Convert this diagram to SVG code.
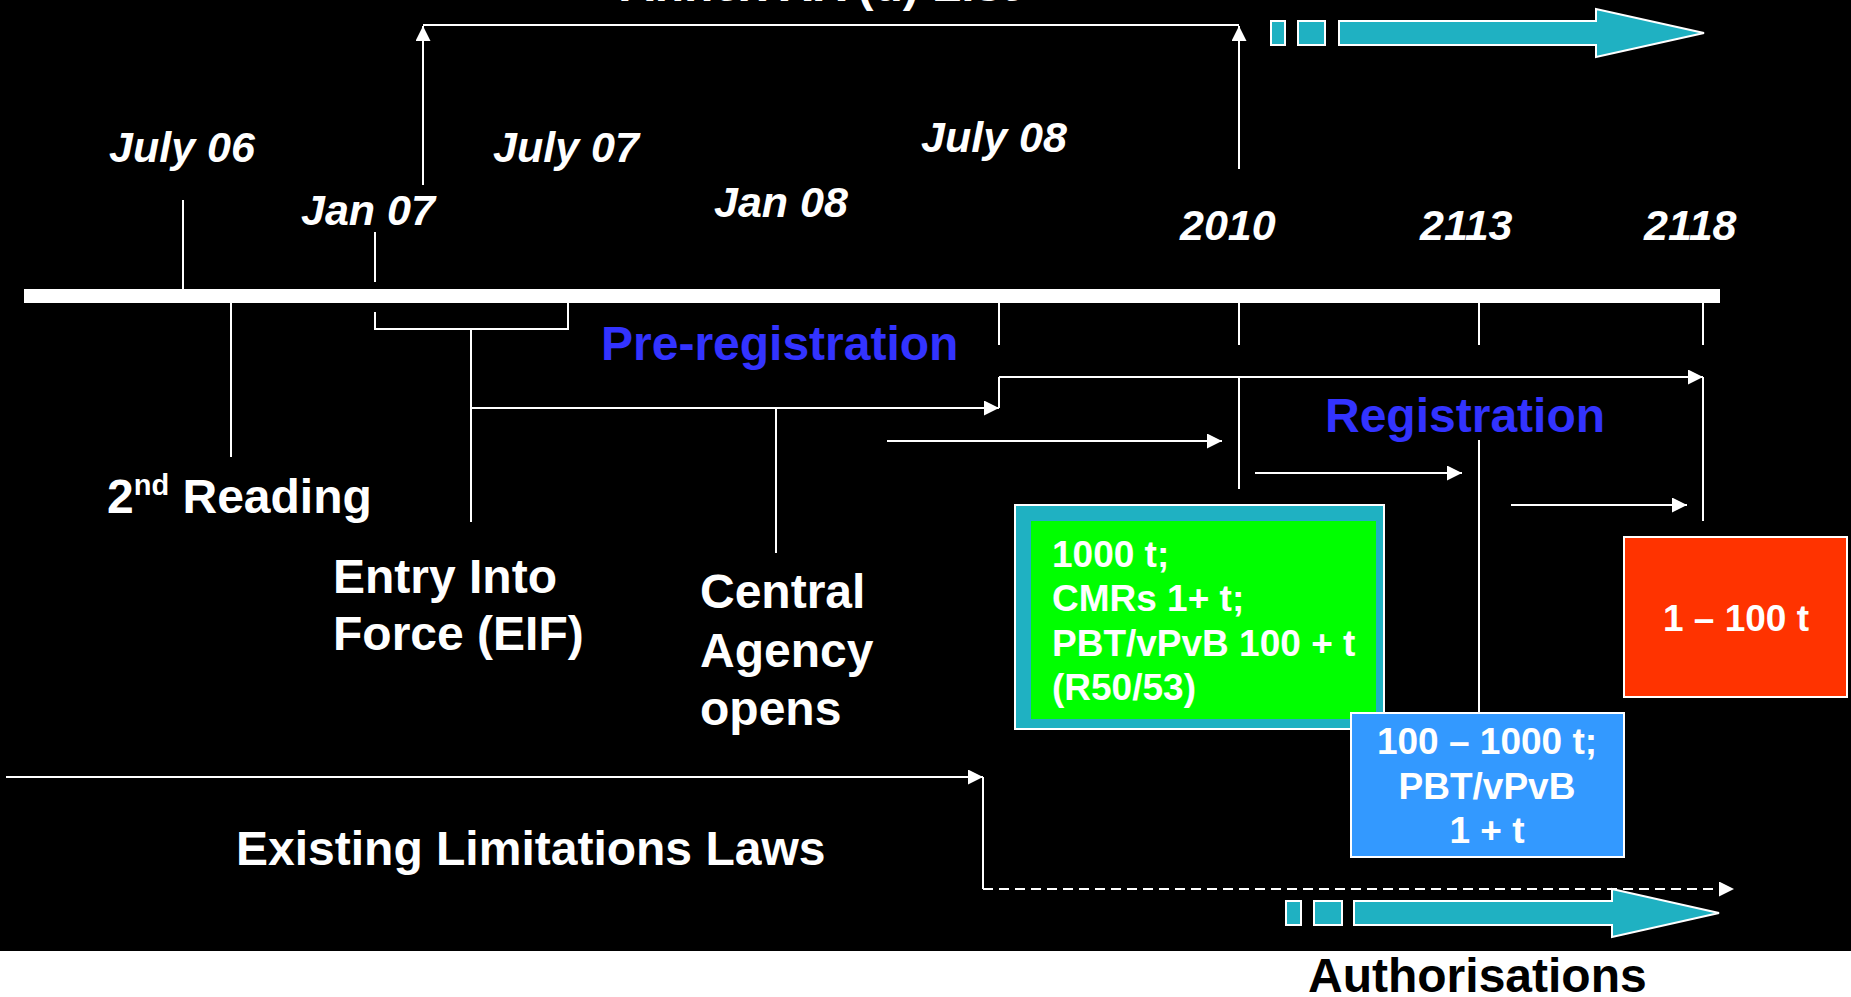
<svg xmlns="http://www.w3.org/2000/svg" width="1851" height="997" viewBox="0 0 1851 997">
<style>
  text { font-family: "Liberation Sans", Arial, sans-serif; font-weight: bold; }
  .date { font-size: 43px; font-style: italic; fill: #ffffff; }
  .lbl { font-size: 48px; fill: #ffffff; }
  .phase { font-size: 48px; fill: #3333ff; }
  .box { font-size: 37px; fill: #ffffff; }
  .ln { stroke: #ffffff; stroke-width: 2; fill: none; }
  .arr { stroke: #ffffff; stroke-width: 2; fill: none; marker-end: url(#ah); }
  .teal { fill: #1fb1c2; stroke: #ffffff; stroke-width: 2; }
</style>
<defs>
  <marker id="ah" markerUnits="userSpaceOnUse" markerWidth="16" markerHeight="16" refX="15" refY="7.5" orient="auto">
    <path d="M0,0 L15,7.5 L0,15 z" fill="#ffffff"/>
  </marker>
</defs>
<rect x="0" y="0" width="1851" height="951" fill="#000000"/>
<rect x="0" y="951" width="1851" height="46" fill="#ffffff"/>

<g id="timeline">
  <rect x="24" y="289" width="1696" height="14" fill="#ffffff"/>
</g>

<g id="connectors">
  <line class="ln" x1="183" y1="200" x2="183" y2="289"/>
  <line class="ln" x1="375" y1="232" x2="375" y2="282"/>
  <line class="arr" x1="423" y1="185" x2="423" y2="26"/>
  <line class="ln" x1="423" y1="25" x2="1239" y2="25"/>
  <line class="arr" x1="1239" y1="169" x2="1239" y2="26"/>
  <line class="ln" x1="231" y1="303" x2="231" y2="457"/>
  <polyline class="ln" points="375,312 375,329 568,329 568,303"/>
  <line class="ln" x1="471" y1="329" x2="471" y2="522"/>
  <line class="arr" x1="471" y1="408" x2="999" y2="408"/>
  <line class="ln" x1="776" y1="408" x2="776" y2="553"/>
  <line class="ln" x1="999" y1="303" x2="999" y2="345"/>
  <line class="ln" x1="999" y1="408" x2="999" y2="377"/>
  <line class="arr" x1="999" y1="377" x2="1703" y2="377"/>
  <line class="ln" x1="1239" y1="303" x2="1239" y2="345"/>
  <line class="ln" x1="1239" y1="377" x2="1239" y2="489"/>
  <line class="ln" x1="1479" y1="303" x2="1479" y2="345"/>
  <line class="ln" x1="1479" y1="440" x2="1479" y2="713"/>
  <line class="ln" x1="1703" y1="303" x2="1703" y2="345"/>
  <line class="ln" x1="1703" y1="377" x2="1703" y2="521"/>
  <line class="arr" x1="887" y1="441" x2="1222" y2="441"/>
  <line class="arr" x1="1255" y1="473" x2="1462" y2="473"/>
  <line class="arr" x1="1511" y1="505" x2="1687" y2="505"/>
  <line class="arr" x1="6" y1="777" x2="983" y2="777"/>
  <line class="ln" x1="983" y1="777" x2="983" y2="889"/>
  <line class="arr" x1="983" y1="889" x2="1734" y2="889" stroke-dasharray="10,6"/>
</g>

<g id="dates">
  <text class="date" x="109" y="162">July 06</text>
  <text class="date" x="301" y="225">Jan 07</text>
  <text class="date" x="493" y="162">July 07</text>
  <text class="date" x="714" y="217">Jan 08</text>
  <text class="date" x="921" y="152">July 08</text>
  <text class="date" x="1180" y="240">2010</text>
  <text class="date" x="1420" y="240">2113</text>
  <text class="date" x="1644" y="240">2118</text>
</g>

<g id="annex-list">
  <text class="lbl" x="620" y="1">Annex XIV(d) List</text>
  <rect class="teal" x="1271" y="21" width="14" height="24"/>
  <rect class="teal" x="1298" y="21" width="27" height="24"/>
  <polygon class="teal" points="1339,21 1596,21 1596,9 1704,33 1596,57 1596,45 1339,45"/>
</g>

<g id="second-reading">
  <text class="lbl" x="107" y="513">2<tspan font-size="29" dy="-18">nd</tspan><tspan dy="18"> Reading</tspan></text>
</g>
<g id="eif">
  <text class="lbl" x="333" y="593">Entry Into</text>
  <text class="lbl" x="333" y="650">Force (EIF)</text>
</g>
<g id="central-agency">
  <text class="lbl" x="700" y="608">Central</text>
  <text class="lbl" x="700" y="667">Agency</text>
  <text class="lbl" x="700" y="725">opens</text>
</g>
<g id="pre-registration">
  <text class="phase" x="601" y="360">Pre-registration</text>
</g>
<g id="registration">
  <text class="phase" x="1325" y="432">Registration</text>
</g>

<g id="box-1000t">
  <rect x="1015" y="505" width="369" height="224" fill="#1fb1c2" stroke="#ffffff" stroke-width="2"/>
  <rect x="1031" y="521" width="345" height="198" fill="#00ff00"/>
  <text class="box" x="1052" y="567">1000 t;</text>
  <text class="box" x="1052" y="611">CMRs 1+ t;</text>
  <text class="box" x="1052" y="656">PBT/vPvB 100 + t</text>
  <text class="box" x="1052" y="700">(R50/53)</text>
</g>

<g id="box-100-1000t">
  <rect x="1351" y="713" width="273" height="144" fill="#3399ff" stroke="#ffffff" stroke-width="2"/>
  <text class="box" x="1487" y="754" text-anchor="middle">100 – 1000 t;</text>
  <text class="box" x="1487" y="799" text-anchor="middle">PBT/vPvB</text>
  <text class="box" x="1487" y="843" text-anchor="middle">1 + t</text>
</g>

<g id="box-1-100t">
  <rect x="1624" y="537" width="223" height="160" fill="#ff3300" stroke="#ffffff" stroke-width="2"/>
  <text class="box" x="1736" y="631" text-anchor="middle">1 – 100 t</text>
</g>

<g id="existing-laws">
  <text class="lbl" x="236" y="865">Existing Limitations Laws</text>
</g>

<g id="authorisations">
  <rect class="teal" x="1286" y="901" width="15" height="24"/>
  <rect class="teal" x="1314" y="901" width="28" height="24"/>
  <polygon class="teal" points="1354,901 1612,901 1612,889 1719,913 1612,937 1612,925 1354,925"/>
  <text x="1308" y="992" font-size="48" fill="#000000">Authorisations</text>
</g>
</svg>
